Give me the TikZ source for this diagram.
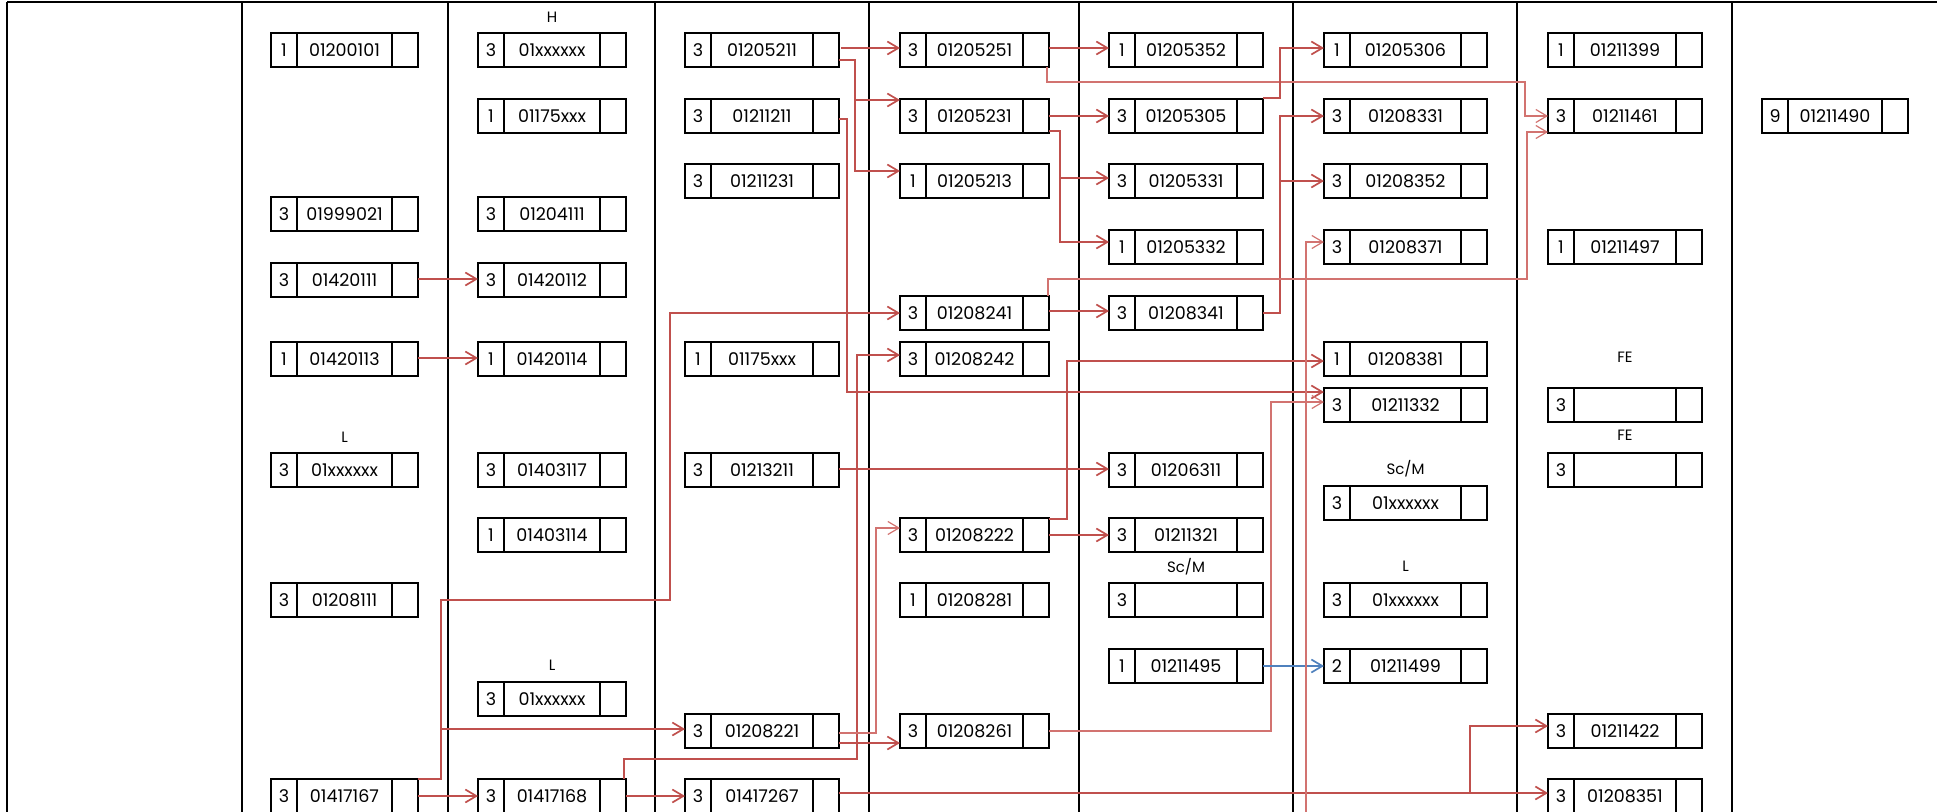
\documentclass[tikz,border=0pt]{standalone}
\usepackage{fontspec}
\setmainfont{Poppins}
\usetikzlibrary{arrows.meta,calc}
\definecolor{ared}{RGB}{192,80,77}
\definecolor{ared2}{RGB}{210,115,112}
\definecolor{ablue}{RGB}{79,129,189}
\newcommand\pbox[6]{%
  \node[pbx, minimum width=#4pt, anchor=north west] (#1) at (#2,#3) {};
  \draw[pbl] ([xshift=26pt]#1.north west) -- ([xshift=26pt]#1.south west);
  \draw[pbl] ([xshift=-26pt]#1.north east) -- ([xshift=-26pt]#1.south east);
  \node[ptx] at ([xshift=13pt]#1.west) {#5};
  \node[ptx] at (#1.center) {#6};
}
\begin{document}
\begin{tikzpicture}[x=1pt,y=-1pt,
  pbx/.style={draw, line width=2.2pt, minimum height=34pt, inner sep=0pt, outer sep=0pt},
  pbl/.style={line width=2.2pt},
  ptx/.style={font=\fontsize{17.5}{17.5}\selectfont, inner sep=0pt},
  lab/.style={font=\fontsize{15}{15}\selectfont, inner sep=0pt},
  coll/.style={line width=1.8pt},
  redln/.style={draw=ared, line width=1.7pt, -{Straight Barb[length=11pt,width=13pt]}},
  redthin/.style={redln, draw=ared2, line width=1.2pt},
  bluln/.style={redln, draw=ablue}]
\useasboundingbox (0,0) rectangle (1937,811);
% grid
\draw[coll] (7,2) -- (1940,2);
\foreach \cx in {7,242,448,655,869,1079,1293,1517,1732}{\draw[coll] (\cx,2) -- (\cx,820);}
% column 1
\pbox{a1}{271}{33}{147}{1}{01200101}
\pbox{a4}{271}{197}{147}{3}{01999021}
\pbox{a6}{271}{263}{147}{3}{01420111}
\pbox{a8}{271}{342}{147}{1}{01420113}
\pbox{a10}{271}{453}{147}{3}{01xxxxxx}
\pbox{a13}{271}{583}{147}{3}{01208111}
\pbox{a17}{271}{779}{147}{3}{01417167}
% column 2
\pbox{b1}{478}{33}{148}{3}{01xxxxxx}
\pbox{b2}{478}{99}{148}{1}{01175xxx}
\pbox{b4}{478}{197}{148}{3}{01204111}
\pbox{b6}{478}{263}{148}{3}{01420112}
\pbox{b8}{478}{342}{148}{1}{01420114}
\pbox{b10}{478}{453}{148}{3}{01403117}
\pbox{b12}{478}{518}{148}{1}{01403114}
\pbox{b15}{478}{682}{148}{3}{01xxxxxx}
\pbox{b17}{478}{779}{148}{3}{01417168}
% column 3
\pbox{c1}{685}{33}{154}{3}{01205211}
\pbox{c2}{685}{99}{154}{3}{01211211}
\pbox{c3}{685}{164}{154}{3}{01211231}
\pbox{c8}{685}{342}{154}{1}{01175xxx}
\pbox{c10}{685}{453}{154}{3}{01213211}
\pbox{c16}{685}{714}{154}{3}{01208221}
\pbox{c17}{685}{779}{154}{3}{01417267}
% column 4
\pbox{d1}{900}{33}{149}{3}{01205251}
\pbox{d2}{900}{99}{149}{3}{01205231}
\pbox{d3}{900}{164}{149}{1}{01205213}
\pbox{d7}{900}{296}{149}{3}{01208241}
\pbox{d8}{900}{342}{149}{3}{01208242}
\pbox{d12}{900}{518}{149}{3}{01208222}
\pbox{d13}{900}{583}{149}{1}{01208281}
\pbox{d16}{900}{714}{149}{3}{01208261}
% column 5
\pbox{e1}{1109}{33}{154}{1}{01205352}
\pbox{e2}{1109}{99}{154}{3}{01205305}
\pbox{e3}{1109}{164}{154}{3}{01205331}
\pbox{e5}{1109}{230}{154}{1}{01205332}
\pbox{e7}{1109}{296}{154}{3}{01208341}
\pbox{e10}{1109}{453}{154}{3}{01206311}
\pbox{e12}{1109}{518}{154}{3}{01211321}
\pbox{e13}{1109}{583}{154}{3}{}
\pbox{e14}{1109}{649}{154}{1}{01211495}
% column 6
\pbox{f1}{1324}{33}{163}{1}{01205306}
\pbox{f2}{1324}{99}{163}{3}{01208331}
\pbox{f3}{1324}{164}{163}{3}{01208352}
\pbox{f5}{1324}{230}{163}{3}{01208371}
\pbox{f8}{1324}{342}{163}{1}{01208381}
\pbox{f9}{1324}{388}{163}{3}{01211332}
\pbox{f11}{1324}{486}{163}{3}{01xxxxxx}
\pbox{f13}{1324}{583}{163}{3}{01xxxxxx}
\pbox{f14}{1324}{649}{163}{2}{01211499}
% column 7
\pbox{g1}{1548}{33}{154}{1}{01211399}
\pbox{g2}{1548}{99}{154}{3}{01211461}
\pbox{g5}{1548}{230}{154}{1}{01211497}
\pbox{g9}{1548}{388}{154}{3}{}
\pbox{g10}{1548}{453}{154}{3}{}
\pbox{g16}{1548}{714}{154}{3}{01211422}
\pbox{g17}{1548}{779}{154}{3}{01208351}
% column 8
\pbox{h2}{1762}{99}{146}{9}{01211490}
% labels
\node[lab] (lH) at (552,17) {H};
\node[lab] (lL1) at (344.5,437) {L};
\node[lab] (lL2) at (552,665) {L};
\node[lab] (lS1) at (1186,567) {Sc/M};
\node[lab] (lS2) at (1405.5,469) {Sc/M};
\node[lab] (lL3) at (1405.5,566) {L};
\node[lab] (lF1) at (1625,357) {FE};
\node[lab] (lF2) at (1625,435) {FE};
% connectors
\draw[redln] ($(a6.east)+(0,-1)$) -- ($(b6.west)+(0,-1)$);
\draw[redln] ($(a8.east)+(0,-1)$) -- ($(b8.west)+(0,-1)$);
\draw[redln] ($(c1.east)+(2,-2)$) -- ($(d1.west)+(0,-2)$);
\draw[redln] ($(c1.east)+(0,10)$) -| (855,100) -- ($(d2.north west)+(0,1)$);
\draw[redln] ($(c1.east)+(0,10)$) -| (855,171) -- ($(d3.north west)+(0,7)$);
\draw[redln] ($(d1.east)+(0,-2)$) -- ($(e1.west)+(0,-2)$);
\draw[redthin] ($(d1.south east)+(-2,0)$) |- (1525,82) |- (g2.west);
\draw[redln] (d2.east) -- (e2.west);
\draw[redln] ($(d2.south east)+(0,-2)$) -| (1060,178) -- ($(e3.west)+(0,-3)$);
\draw[redln] ($(d2.south east)+(0,-2)$) -| (1060,242) -- ($(e5.west)+(0,-5)$);
\draw[redln] ($(e2.north east)+(0,-1)$) -| (1280,48) -- ($(f1.west)+(0,-2)$);
\draw[redln] (e7.east) -| (1280,116) -- (f2.west);
\draw[redln] (e7.east) -| (1280,181) -- (f3.west);
\draw[redln] ($(d7.east)+(0,-2)$) -- ($(e7.west)+(0,-2)$);
\draw[redthin] ($(d7.north east)+(-1,0)$) |- (1527,279) |- ($(g2.west)+(0,16)$);
\draw[redln] (a17.north east) -- (441,779) -- (441,600) -- (670,600) |- (d7.west);
\draw[redln] (a17.north east) -- (441,779) |- ($(c16.west)+(0,-2)$);
\draw[redln] (a17.east) -- (b17.west);
\draw[redln] (b17.east) -- (c17.west);
\draw[redln] ($(b17.north east)+(-2,0)$) |- (857,759) |- ($(d8.west)+(0,-4)$);
\draw[redthin] ($(c16.east)+(0,2)$) -| (876,528) -- ($(d12.west)+(0,-7)$);
\draw[redln] ($(c16.east)+(0,12)$) -- ($(d16.west)+(0,12)$);
\draw[redln] ($(c2.east)+(0,3)$) -| (847,392) -- ($(f9.west)+(0,-13)$);
\draw[redthin] (d16.east) -| (1271,402) -- ($(f9.west)+(0,-3)$);
\draw[redln] ($(d12.north east)+(0,1)$) -| (1067,361) -- ($(f8.west)+(0,2)$);
\draw[redln] (d12.east) -- (e12.west);
\draw[redln] ($(c10.east)+(0,-1)$) -- ($(e10.west)+(0,-1)$);
\draw[bluln] (e14.east) -- (f14.west);
\draw[redln] ($(c17.east)+(0,-3)$) -- ($(g17.west)+(0,-3)$);
\draw[redln] ($(c17.east)+(0,-3)$) -| (1470,726) -- ($(g16.west)+(0,-5)$);
\coordinate (fb) at (1306,820);
\draw[redthin] (fb) |- ($(f5.west)+(0,-5)$);
\end{tikzpicture}
\end{document}
